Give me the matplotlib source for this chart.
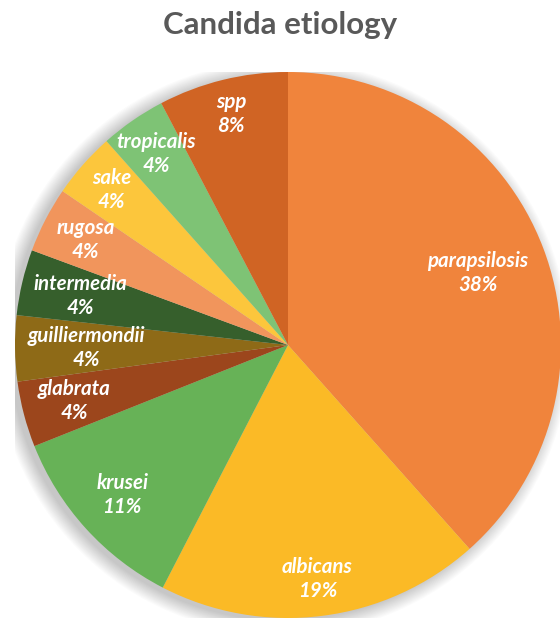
import matplotlib
matplotlib.use("Agg")
import matplotlib.pyplot as plt
from matplotlib.patches import Circle
import numpy as np

names = ["parapsilosis", "albicans", "krusei", "glabrata", "guilliermondii",
         "intermedia", "rugosa", "sake", "tropicalis", "spp"]
values = [38.5, 19.2, 11.4, 3.9, 3.9, 3.9, 3.9, 3.9, 3.9, 7.7]
colors = ["#F0843C", "#FBBA26", "#67B257", "#9C461C", "#8E6A17",
          "#365F2C", "#F1955C", "#FCC63C", "#7EC375", "#D06424"]
title = "Candida etiology"

W, H = 560, 619
fig = plt.figure(figsize=(W / 100, H / 100), dpi=100)
fig.patch.set_facecolor("white")

cx, cy, r = 288, 345, 273
ax = fig.add_axes([(cx - r) / W, (H - cy - r) / H, 2 * r / W, 2 * r / H])
ax.axis("off")

# soft shadow
for i in range(14):
    ax.add_patch(Circle((-0.02, -0.01), 1.0 + 0.004 * i, color="black",
                        alpha=0.016, lw=0, zorder=0))

wedges, _ = ax.pie(
    values, colors=colors, startangle=90, counterclock=False, radius=1.0,
    wedgeprops=dict(linewidth=0), frame=False)

total = sum(values)
dists = [0.745, 0.865, 0.82, 0.81, 0.74, 0.78, 0.835, 0.86, 0.85, 0.87]
for w, name, v, d in zip(wedges, names, values, dists):
    ang = np.deg2rad((w.theta1 + w.theta2) / 2)
    x, y = d * np.cos(ang), d * np.sin(ang)
    ax.text(x, y, f"{name}\n{100 * v / total:.0f}%", ha="center", va="center",
            color="white", fontsize=14.8, fontweight="bold", fontstyle="italic",
            family="Lato", linespacing=1.25, zorder=5)
ax.set_xlim(-1, 1)
ax.set_ylim(-1, 1)
ax.set_aspect("equal")

fig.text(0.5, 1 - 25 / H, title, ha="center", va="center", fontsize=22.5,
         fontweight="bold", color="#595959", family="Lato")

fig.savefig("out.png", dpi=100, facecolor="white")
